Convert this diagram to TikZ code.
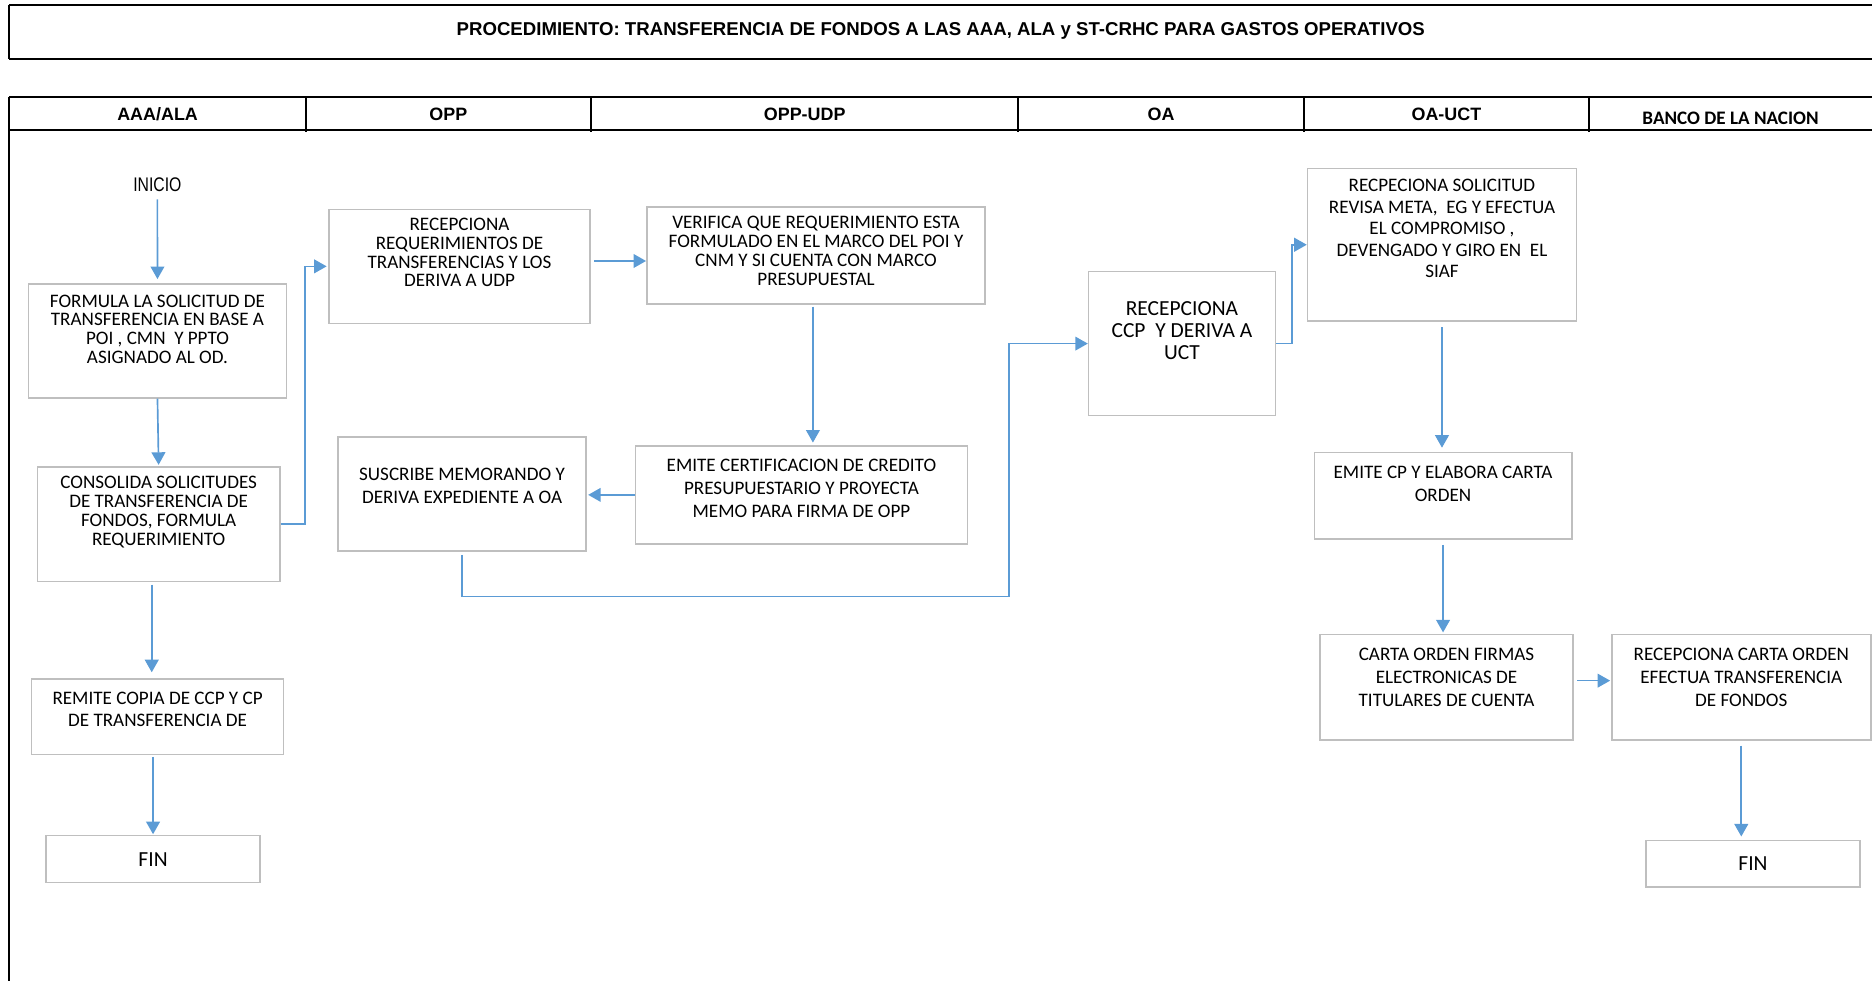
\documentclass[tikz,border=0pt]{standalone}
\usepackage{fontspec}
\setmainfont{Carlito}
\newfontfamily\headfont{Liberation Sans}
\newfontfamily\narrowfont[FakeStretch=0.8]{Liberation Sans}
\usepackage{xcolor}
\usepackage{tikz}
\usetikzlibrary{arrows.meta}

\definecolor{boxgray}{HTML}{BFBFBF}
\definecolor{flowblue}{HTML}{5B9BD5}

\begin{document}
\begin{tikzpicture}[x=1pt, y=-1pt]
	\tikzstyle{proc}=[rectangle, draw=boxgray, line width=1.3pt, inner sep=0pt]
	\tikzstyle{txt}=[anchor=north, align=center, inner sep=0pt, font=\fontsize{16}{15.7}\selectfont]
	\tikzstyle{txtw}=[anchor=north, align=center, inner sep=0pt, font=\fontsize{16}{19}\selectfont]
	\tikzstyle{lane}=[inner sep=0pt, font=\headfont\bfseries\fontsize{15}{18}\selectfont]
	\tikzstyle{flow}=[draw=flowblue, line width=1.4pt, -{Triangle[length=10.5pt, width=11.5pt]}]
	\useasboundingbox (0,0) rectangle (1568,822);

	% title and lanes
	\draw[line width=1.7pt] (7.5,4) -- (1568,4);
	\draw[line width=2pt] (7.5,49.4) -- (1568,49.4);
	\draw[line width=1.2pt] (7.5,4) -- (7.5,49.4);
	\node[lane, font=\headfont\bfseries\fontsize{15.6}{18}\selectfont] (title) at (788,26) {PROCEDIMIENTO: TRANSFERENCIA DE FONDOS A LAS AAA, ALA y ST-CRHC PARA GASTOS OPERATIVOS};
	\draw[line width=1.7pt] (7.5,81) -- (1568,81);
	\draw[line width=2.2pt] (7.5,108.9) -- (1568,108.9);
	\draw[line width=1.5pt] (7.5,81) -- (7.5,822);
	\foreach \x in {256,495,853,1092,1331}
		\draw[line width=1.5pt] (\x,81) -- (\x,110.5);
	\node[lane] (aaa) at (132,95.7) {AAA/ALA};
	\node[lane] (opp) at (375.5,95.7) {OPP};
	\node[lane] (udp) at (674,95.7) {OPP-UDP};
	\node[lane] (oa) at (972.5,95.7) {OA};
	\node[lane] (uct) at (1211.5,95.7) {OA-UCT};
	\node[inner sep=0pt, font=\bfseries\fontsize{16}{18}\selectfont] (bn) at (1449.5,98.7) {BANCO DE LA NACION};

	% AAA/ALA
	\node[inner sep=0pt, font=\narrowfont\fontsize{16.5}{18}\selectfont] (inicio) at (131.8,155) {INICIO};
	\node[proc, minimum width=216.2pt, minimum height=95.4pt,
		label={[txt, yshift=-9.5pt]north:{FORMULA LA SOLICITUD DE\\TRANSFERENCIA EN BASE A\\POI , CMN \ Y PPTO\\ASIGNADO AL OD.}}] (formula) at (131.9,285.6) {};
	\node[proc, minimum width=203pt, minimum height=96pt,
		label={[txt, yshift=-8.6pt]north:{CONSOLIDA SOLICITUDES\\DE TRANSFERENCIA DE\\FONDOS, FORMULA\\REQUERIMIENTO}}] (consolida) at (132.9,439) {};
	\node[proc, minimum width=210.9pt, minimum height=63.1pt,
		label={[txtw, yshift=-11pt]north:{REMITE COPIA DE CCP Y CP\\DE TRANSFERENCIA DE}}] (remite) at (132,600.3) {};
	\node[proc, minimum width=179.4pt, minimum height=39.4pt, font=\fontsize{18}{20}\selectfont] (fina) at (128.2,719.6) {FIN};

	% OPP
	\node[proc, minimum width=218.3pt, minimum height=95.5pt,
		label={[txt, yshift=-7.9pt]north:{RECEPCIONA\\REQUERIMIENTOS DE\\TRANSFERENCIAS Y LOS\\DERIVA A UDP}}] (req) at (384.9,223.1) {};
	\node[proc, minimum width=208pt, minimum height=95.5pt,
		label={[txtw, yshift=-26.6pt]north:{SUSCRIBE MEMORANDO Y\\DERIVA EXPEDIENTE A OA}}] (suscribe) at (387,413.8) {};

	% OPP-UDP
	\node[proc, minimum width=283.4pt, minimum height=81pt,
		label={[txt, yshift=-8.2pt]north:{VERIFICA QUE REQUERIMIENTO ESTA\\FORMULADO EN EL MARCO DEL POI Y\\CNM Y SI CUENTA CON MARCO\\PRESUPUESTAL}}] (verifica) at (683.5,214.1) {};
	\node[proc, minimum width=277.8pt, minimum height=82.3pt,
		label={[txtw, yshift=-11.8pt]north:{EMITE CERTIFICACION DE CREDITO\\PRESUPUESTARIO Y PROYECTA\\MEMO PARA FIRMA DE OPP}}] (emitecert) at (671.3,414.5) {};

	% OA
	\node[proc, minimum width=156.4pt, minimum height=120.6pt,
		label={[txt, yshift=-25.7pt, font=\fontsize{18}{18.2}\selectfont]north:{RECEPCIONA\\CCP \ Y DERIVA A\\UCT}}] (ccp) at (990,287.8) {};

	% OA-UCT
	\node[proc, minimum width=225.2pt, minimum height=128pt,
		label={[txt, yshift=-9.6pt, font=\fontsize{16}{18}\selectfont]north:{RECPECIONA SOLICITUD\\REVISA META, \ EG Y EFECTUA\\EL COMPROMISO ,\\DEVENGADO Y GIRO EN \ EL\\SIAF}}] (sol) at (1207.8,205) {};
	\node[proc, minimum width=215.7pt, minimum height=72.1pt,
		label={[txtw, yshift=-12.1pt]north:{EMITE CP Y ELABORA CARTA\\ORDEN}}] (emitecp) at (1208.7,415.2) {};
	\node[proc, minimum width=212.3pt, minimum height=88.5pt,
		label={[txtw, yshift=-12.1pt]north:{CARTA ORDEN FIRMAS\\ELECTRONICAS DE\\TITULARES DE CUENTA}}] (carta) at (1211.6,575.6) {};

	% BANCO DE LA NACION
	\node[proc, minimum width=217pt, minimum height=88.5pt,
		label={[txtw, yshift=-12.1pt]north:{RECEPCIONA CARTA ORDEN\\EFECTUA TRANSFERENCIA\\DE FONDOS}}] (recep) at (1458.5,575.6) {};
	\node[proc, minimum width=179.4pt, minimum height=39pt, font=\fontsize{18}{20}\selectfont] (finb) at (1468.3,723.5) {FIN};

	% connectors
	\coordinate (bend) at (845.4,499.7);
	\draw[flow, shorten <=6pt, shorten >=3.5pt] (inicio.south) -- (formula.north);
	\draw[flow, shorten >=1pt] (formula.south) -- (consolida.north);
	\draw[flow, shorten <=2pt, shorten >=5pt] ([xshift=-5.8pt]consolida.south) -- ([xshift=-5.8pt]consolida.south |- remite.north);
	\draw[flow, shorten <=1.5pt, shorten >=0.5pt] (fina.north |- remite.south) -- (fina.north);
	\draw[flow, shorten >=1.5pt] (consolida.east) -- ++(20.2,0) |- (req.west);
	\draw[flow, shorten <=3pt] ([yshift=4.5pt]req.east) -- ([yshift=4.5pt]req.east -| verifica.west);
	\draw[flow, shorten <=1.5pt, shorten >=2pt] ([xshift=-2.6pt]verifica.south) -- ([xshift=-2.6pt]verifica.south |- emitecert.north);
	\draw[flow, shorten >=1pt] (emitecert.west) -- (emitecert.west -| suscribe.east);
	\draw[flow, shorten <=2.5pt] (suscribe.south) |- (bend) |- (ccp.west);
	\draw[flow] (ccp.east) -- ++(13.1,0) |- (sol.west);
	\draw[flow, shorten <=4.5pt, shorten >=3.5pt] (sol.south) -- (sol.south |- emitecp.north);
	\draw[flow, shorten <=4.4pt, shorten >=1pt] (emitecp.south) -- (emitecp.south |- carta.north);
	\draw[flow, shorten <=2.7pt, shorten >=0.7pt] ([yshift=5.5pt]carta.east) -- ([yshift=5.5pt]recep.west);
	\draw[flow, shorten <=4pt, shorten >=2.7pt] (recep.south) -- (recep.south |- finb.north);
\end{tikzpicture}
\end{document}
